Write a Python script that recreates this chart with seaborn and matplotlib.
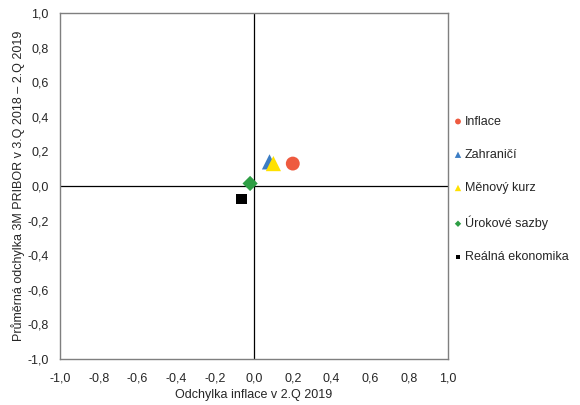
import numpy as np
import matplotlib
matplotlib.use('Agg')
import matplotlib.pyplot as plt
import pandas as pd
import seaborn as sns

sns.set_style('white')
plt.rcParams['font.family'] = ['Liberation Sans', 'DejaVu Sans']

# data
names = ['Inflace', 'Zahraničí', 'Měnový kurz', 'Úrokové sazby', 'Reálná ekonomika']
x_vals = [0.20, 0.08, 0.10, -0.02, -0.065]
y_vals = [0.13, 0.14, 0.13, 0.015, -0.075]
colors = ['#EE5A3F', '#3C7DC4', '#FFE100', '#2E9E44', '#000000']
markers = ['o', '^', '^', 'D', 's']
sizes = [100, 120, 120, 60, 60]

ticks = np.round(np.arange(-1.0, 1.01, 0.2), 1) + 0.0
tick_labels = [f'{t:.1f}'.replace('.', ',').replace('-0,0', '0,0') for t in ticks]

df = pd.DataFrame({'x': x_vals, 'y': y_vals, 'name': names})

fig = plt.figure(figsize=(5.8, 4.05), dpi=100)
ax = fig.add_axes([0.1034, 0.1136, 0.669, 0.854])

ax.axhline(0, color='black', lw=0.9, zorder=1)
ax.axvline(0, color='black', lw=0.9, zorder=1)

for i, row in df.iterrows():
    sns.scatterplot(data=df.iloc[[i]], x='x', y='y', ax=ax, marker=markers[i],
                    s=sizes[i], color=colors[i], edgecolor='none',
                    label=row['name'], zorder=3)

fs = 9
ax.set_xlim(-1, 1)
ax.set_ylim(-1, 1)
ax.set_xticks(ticks)
ax.set_yticks(ticks)
ax.set_xticklabels(tick_labels, fontsize=fs)
ax.set_yticklabels(tick_labels, fontsize=fs)
ax.tick_params(axis='y', length=0, pad=8)
ax.tick_params(axis='x', length=0, pad=10)
for sp in ax.spines.values():
    sp.set_color('#7f7f7f')
    sp.set_linewidth(1.0)

ax.set_xlabel('Odchylka inflace v 2.Q 2019', fontsize=fs, labelpad=3)
ax.set_ylabel('Průměrná odchylka 3M PRIBOR v 3.Q 2018 – 2.Q 2019', fontsize=fs, labelpad=2)

leg = ax.legend(loc='center left', bbox_to_anchor=(1.0, 0.49), frameon=False,
                fontsize=fs, markerscale=0.42, handlelength=0.6, handletextpad=0.25,
                labelspacing=1.7, borderaxespad=0.1)

plt.savefig('out.png', dpi=100)
